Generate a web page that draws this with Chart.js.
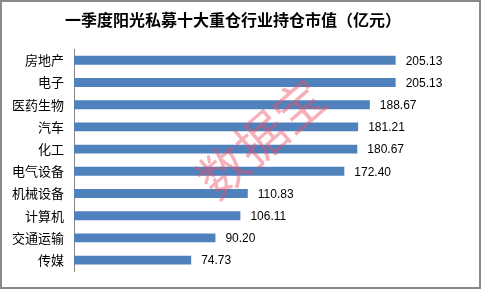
<!DOCTYPE html>
<html>
<head>
<meta charset="utf-8">
<script src="https://cdn.jsdelivr.net/npm/chart.js@4"></script>
<style>
  html, body { margin: 0; padding: 0; background: #fff; }
  #wrap { width: 481px; height: 289px; position: relative; }
</style>
</head>
<body>
<div id="wrap"><canvas id="myBarChart"></canvas></div>
<script>
"use strict";

// categories and values, top to bottom
const industries = ['房地产', '电子', '医药生物', '汽车', '化工', '电气设备', '机械设备', '计算机', '交通运输', '传媒'];
const holdValues = [205.13, 205.13, 188.67, 181.21, 180.67, 172.40, 110.83, 106.11, 90.20, 74.73];
const titleText = '一季度阳光私募十大重仓行业持仓市值（亿元）';
const watermark = '数据宝';

// value labels at the end of each bar
const valueLabels = {
  id: 'valueLabels',
  afterDatasetsDraw(chart) {
    const ctx = chart.ctx;
    const meta = chart.getDatasetMeta(0);
    ctx.save();
    ctx.font = '12px "Liberation Sans", Arial, sans-serif';
    ctx.fillStyle = '#000';
    ctx.textBaseline = 'middle';
    ctx.textAlign = 'left';
    meta.data.forEach((bar, i) => {
      ctx.fillText(holdValues[i].toFixed(2), bar.x + 10, bar.y + 1);
    });
    ctx.restore();
  }
};

// pink stamp + frame
const extras = {
  id: 'extras',
  afterDraw(chart) {
    const ctx = chart.ctx;
    ctx.save();
    ctx.translate(261, 138);
    ctx.rotate(-41 * Math.PI / 180);
    ctx.font = '50px "Noto Sans CJK SC", sans-serif';
    ctx.fillStyle = 'rgba(236, 80, 100, 0.45)';
    ctx.textAlign = 'center';
    ctx.textBaseline = 'middle';
    ctx.fillText(watermark, 0, 0);
    ctx.restore();

    ctx.save();
    ctx.strokeStyle = '#8a8a8a';
    ctx.lineWidth = 2;
    ctx.strokeRect(1, 1, 479, 287);
    ctx.restore();
  }
};

const barCtx = document.getElementById('myBarChart').getContext('2d');
let myBarChart = new Chart(barCtx, {
  type: 'bar',
  data: {
    labels: industries,
    datasets: [{
      data: holdValues,
      backgroundColor: '#4f81bd',
      barPercentage: 0.4,
      categoryPercentage: 1
    }]
  },
  options: {
    indexAxis: 'y',
    responsive: true,
    maintainAspectRatio: false,
    animation: false,
    layout: { padding: { left: 0, right: 15, top: 0, bottom: 15 } },
    plugins: {
      legend: { display: false },
      tooltip: { enabled: false },
      title: {
        display: true,
        text: titleText,
        color: '#000',
        font: { family: '"Noto Sans CJK SC", sans-serif', size: 16, weight: 'bold' },
        padding: { top: 10, bottom: 20 }
      }
    },
    scales: {
      x: {
        display: false,
        min: 0,
        max: 250
      },
      y: {
        grid: { display: false, drawTicks: false },
        border: { display: true, color: '#868686', width: 1 },
        ticks: {
          color: '#000',
          padding: 10,
          font: { family: '"Noto Sans CJK SC", sans-serif', size: 13 }
        },
        afterFit(scale) { scale.width = 74; }
      }
    }
  },
  plugins: [valueLabels, extras]
});
</script>
</body>
</html>
